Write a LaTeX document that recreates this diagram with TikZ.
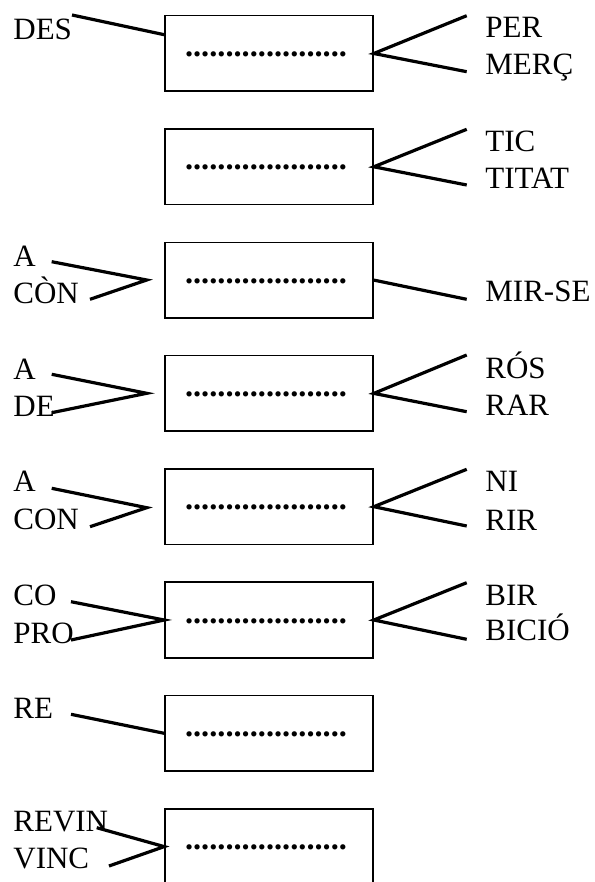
\documentclass[tikz,border=0pt]{standalone}
\usepackage{fontspec}
\setmainfont{Liberation Serif}
\tikzset{
  casella/.style={draw, line width=0.8pt, minimum width=104pt, minimum height=37.8pt, inner sep=0pt,
    text height=3.1pt, text depth=0pt, font=\bfseries\fontsize{16.2}{18}\selectfont},
  etiq/.style={anchor=base west, inner sep=0pt, font=\fontsize{15.5}{18.6}\selectfont},
  ratlla/.style={line width=1.6pt}
}
\newcommand{\punts}{....................\kern3pt}
\begin{document}
\begin{tikzpicture}[x=0.5pt,y=-0.5pt]
\useasboundingbox (0,0) rectangle (594,882);

% caselles
\node[casella] (b1) at (269,53.5) {\punts};
\node[casella] (b2) at (269,166.8) {\punts};
\node[casella] (b3) at (269,280.1) {\punts};
\node[casella] (b4) at (269,393.4) {\punts};
\node[casella] (b5) at (269,506.7) {\punts};
\node[casella] (b6) at (269,620) {\punts};
\node[casella] (b7) at (269,733.3) {\punts};
\node[casella] (b8) at (269,846.6) {\punts};

% fila 1
\node[etiq] (des) at (13,39.3) {DES};
\node[etiq] (per) at (485,38) {PER};
\node[etiq] (merc) at (485,75) {MERÇ};
\coordinate (l1) at (72,15);
\coordinate (r1a) at (466.7,15.7);
\coordinate (r1b) at (466.7,71.7);
\draw[ratlla] (l1) -- ([yshift=9.4pt]b1.west);
\draw[ratlla] (r1a) -- (b1.east) -- (r1b);

% fila 2
\node[etiq] (tic) at (485,151.7) {TIC};
\node[etiq] (titat) at (485,188.3) {TITAT};
\coordinate (r2a) at (466.7,129.3);
\coordinate (r2b) at (466.7,185);
\draw[ratlla] (r2a) -- (b2.east) -- (r2b);

% fila 3
\node[etiq] (a3) at (13,266) {A};
\node[etiq] (con3) at (13,303.3) {CÒN};
\node[etiq] (mirse) at (485,301) {MIR-SE};
\coordinate (l3a) at (51.7,261.7);
\coordinate (v3) at (146.7,280);
\coordinate (l3b) at (90,299.3);
\coordinate (r3) at (466.7,299.3);
\draw[ratlla] (l3a) -- (v3) -- (l3b);
\draw[ratlla] (b3.east) -- (r3);

% fila 4
\node[etiq] (a4) at (13,379.3) {A};
\node[etiq] (de4) at (13,416.7) {DE};
\node[etiq] (ros) at (485,378.3) {RÓS};
\node[etiq] (rar) at (485,415) {RAR};
\coordinate (l4a) at (51.7,374.3);
\coordinate (v4) at (146.7,393.3);
\coordinate (l4b) at (51.7,412.7);
\coordinate (r4a) at (466.7,355);
\coordinate (r4b) at (466.7,411.7);
\draw[ratlla] (l4a) -- (v4) -- (l4b);
\draw[ratlla] (r4a) -- (b4.east) -- (r4b);

% fila 5
\node[etiq] (a5) at (13,491.7) {A};
\node[etiq] (con5) at (13,529.3) {CON};
\node[etiq] (ni) at (485,491.7) {NI};
\node[etiq] (rir) at (485,530) {RIR};
\coordinate (l5a) at (51.7,488.3);
\coordinate (v5) at (146.7,507.7);
\coordinate (l5b) at (90,526.7);
\coordinate (r5a) at (466.7,469.3);
\coordinate (r5b) at (466.7,526);
\draw[ratlla] (l5a) -- (v5) -- (l5b);
\draw[ratlla] (r5a) -- (b5.east) -- (r5b);

% fila 6
\node[etiq] (co) at (13,605) {CO};
\node[etiq] (pro) at (13,643.3) {PRO};
\node[etiq] (bir) at (485,605) {BIR};
\node[etiq] (bicio) at (485,640) {BICIÓ};
\coordinate (l6a) at (71,601.7);
\coordinate (l6b) at (71,640);
\coordinate (r6a) at (466.7,582.7);
\coordinate (r6b) at (466.7,639.3);
\draw[ratlla] (l6a) -- (b6.west) -- (l6b);
\draw[ratlla] (r6a) -- (b6.east) -- (r6b);

% fila 7
\node[etiq] (re) at (13,718.3) {RE};
\coordinate (l7) at (71,714.3);
\draw[ratlla] (l7) -- (b7.west);

% fila 8
\node[etiq] (revin) at (13,831.7) {REVIN};
\node[etiq] (vinc) at (13,868.3) {VINC};
\coordinate (l8a) at (96.7,827.7);
\coordinate (l8b) at (109,866);
\draw[ratlla] (l8a) -- (b8.west) -- (l8b);
\end{tikzpicture}
\end{document}
